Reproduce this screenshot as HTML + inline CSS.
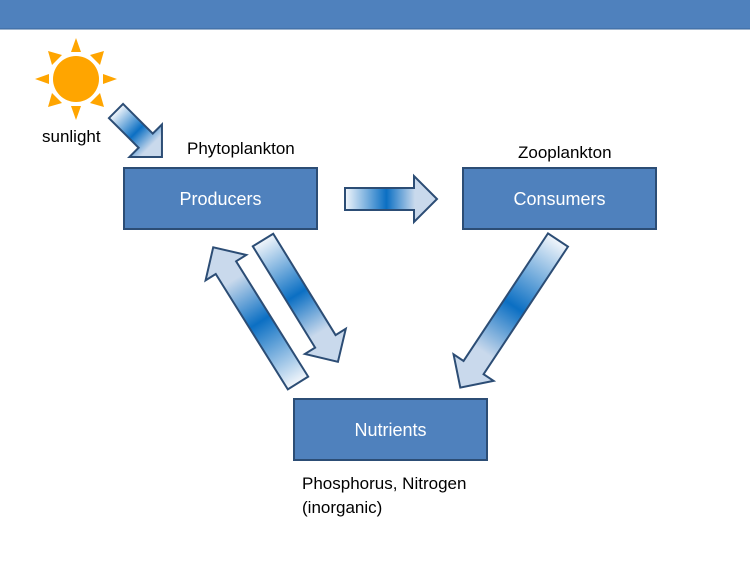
<!DOCTYPE html>
<html><head><style>body{margin:0;background:#fff}svg{display:block}</style></head><body>
<svg width="750" height="563" xmlns="http://www.w3.org/2000/svg" font-family="Liberation Sans, sans-serif">
<defs>
<linearGradient id="g" x1="0" y1="0" x2="1" y2="0">
<stop offset="0" stop-color="#f2f6fb"/><stop offset="0.45" stop-color="#0b6fc3"/><stop offset="0.76" stop-color="#c9d9ec"/><stop offset="1" stop-color="#c9d9ec"/>
</linearGradient>
</defs>
<rect x="0" y="0" width="750" height="29" fill="#4f81bd"/>
<line x1="0" y1="29" x2="750" y2="29" stroke="#3a6599" stroke-width="1"/>
<!-- sun -->
<g fill="#ffa500">
<circle cx="76" cy="79" r="23"/>
<polygon points="76,38 71,52 81,52"/>
<polygon points="76,120 71,106 81,106"/>
<polygon points="35,79 49,74 49,84"/>
<polygon points="117,79 103,74 103,84"/>
<polygon points="48,51 52,65 62,55"/>
<polygon points="104,51 90,55 100,65"/>
<polygon points="48,107 62,103 52,93"/>
<polygon points="104,107 100,93 90,103"/>
</g>
<text x="42" y="142" font-size="17" fill="#000">sunlight</text>
<text x="187" y="154" font-size="17" fill="#000">Phytoplankton</text>
<text x="518" y="158" font-size="17" fill="#000">Zooplankton</text>
<!-- arrows -->
<g fill="url(#g)" stroke="#2c4d75" stroke-width="2" stroke-linejoin="miter">
<path transform="translate(116,111) rotate(45)" d="M0,-10 L42,-10 L42,-23 L65,0 L42,23 L42,10 L0,10 Z"/>
<path transform="translate(345,199) rotate(0)" d="M0,-11 L69,-11 L69,-23 L92,0 L69,23 L69,11 L0,11 Z"/>
<path transform="translate(263,240) rotate(58.4)" d="M0,-12 L119,-12 L119,-24 L143,0 L119,24 L119,12 L0,12 Z"/>
<path transform="translate(298,383) rotate(-122)" d="M0,-12 L136,-12 L136,-24 L160,0 L136,24 L136,12 L0,12 Z"/>
<path transform="translate(558,240) rotate(123.5)" d="M0,-12 L153,-12 L153,-24 L177,0 L153,24 L153,12 L0,12 Z"/>
</g>
<!-- boxes -->
<g fill="#4f81bd" stroke="#2c4d75" stroke-width="2">
<rect x="124" y="168" width="193" height="61"/>
<rect x="463" y="168" width="193" height="61"/>
<rect x="294" y="399" width="193" height="61"/>
</g>
<g fill="#fff" font-size="18" text-anchor="middle">
<text x="220.5" y="205">Producers</text>
<text x="559.5" y="205">Consumers</text>
<text x="390.5" y="436">Nutrients</text>
</g>
<text x="302" y="489" font-size="17" fill="#000">Phosphorus, Nitrogen</text>
<text x="302" y="513" font-size="17" fill="#000">(inorganic)</text>
</svg>
</body></html>
